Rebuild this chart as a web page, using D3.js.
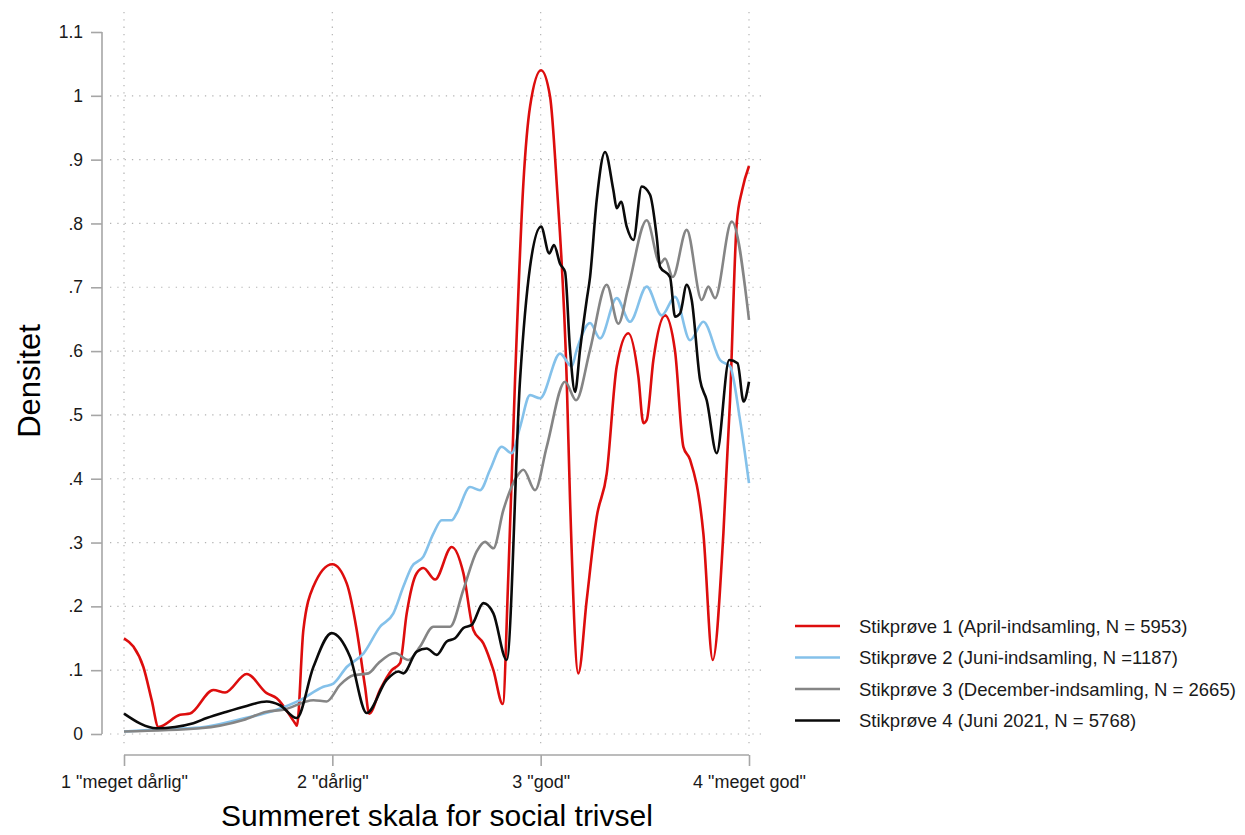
<!DOCTYPE html>
<html>
<head>
<meta charset="utf-8">
<script src="https://cdn.jsdelivr.net/npm/d3@7"></script>
<style>
  body { margin: 0; background: #fff; }
  svg { display: block; font-family: "Liberation Sans", Arial, sans-serif; }
</style>
</head>
<body>
<svg id="chart" width="1245" height="835"></svg>
<script>
// ---- Data ----
const xTicks = [1, 2, 3, 4];
const xTickLabels = ['1 "meget dårlig"', '2 "dårlig"', '3 "god"', '4 "meget god"'];
const yTicks = [0, 0.1, 0.2, 0.3, 0.4, 0.5, 0.6, 0.7, 0.8, 0.9, 1.0, 1.1];
const yTickLabels = ["0", ".1", ".2", ".3", ".4", ".5", ".6", ".7", ".8", ".9", "1", "1.1"];
const yGrid = [0, 0.1, 0.2, 0.3, 0.4, 0.5, 0.6, 0.7, 0.8, 0.9, 1.0];

const seriesNames = [
  "Stikprøve 1 (April-indsamling, N = 5953)",
  "Stikprøve 2 (Juni-indsamling, N =1187)",
  "Stikprøve 3 (December-indsamling, N = 2665)",
  "Stikprøve 4 (Juni 2021, N = 5768)"
];
const seriesColors = ["#dd0d0d", "#84c1ea", "#858585", "#0a0a0a"];

const sample1 = [
  [1.000,0.150],[1.045,0.137],[1.093,0.105],[1.133,0.053],[1.165,0.011],
  [1.269,0.030],[1.317,0.032],[1.429,0.069],[1.485,0.065],[1.589,0.094],
  [1.685,0.064],[1.733,0.056],[1.821,0.017],[1.830,0.013],[1.861,0.163],
  [1.909,0.231],[2.000,0.266],[2.069,0.236],[2.117,0.163],[2.157,0.074],
  [2.177,0.032],[2.229,0.069],[2.285,0.100],[2.325,0.111],[2.357,0.189],
  [2.405,0.252],[2.437,0.260],[2.493,0.242],[2.573,0.293],[2.629,0.252],
  [2.677,0.163],[2.725,0.142],[2.773,0.100],[2.818,0.047],[2.845,0.250],
  [2.877,0.555],[2.917,0.863],[2.949,0.983],[3.002,1.040],[3.045,0.999],
  [3.077,0.863],[3.125,0.555],[3.141,0.367],[3.181,0.095],[3.221,0.210],
  [3.269,0.340],[3.317,0.408],[3.365,0.576],[3.421,0.628],[3.469,0.560],
  [3.493,0.487],[3.509,0.492],[3.541,0.586],[3.597,0.656],[3.645,0.600],
  [3.685,0.450],[3.717,0.430],[3.781,0.314],[3.826,0.116],[3.877,0.314],
  [3.909,0.523],[3.941,0.800],[3.967,0.852],[4.000,0.890]
];
const sample2 = [
  [1.000,0.004],[1.157,0.007],[1.365,0.010],[1.557,0.023],[1.733,0.038],
  [1.845,0.053],[1.957,0.074],[2.005,0.079],[2.069,0.105],[2.149,0.126],
  [2.229,0.168],[2.293,0.189],[2.341,0.231],[2.381,0.262],[2.437,0.278],
  [2.485,0.314],[2.525,0.335],[2.573,0.335],[2.597,0.346],[2.661,0.387],
  [2.709,0.382],[2.757,0.414],[2.813,0.450],[2.861,0.440],[2.901,0.481],
  [2.949,0.531],[2.997,0.526],[3.093,0.596],[3.149,0.576],[3.173,0.602],
  [3.237,0.644],[3.285,0.620],[3.365,0.683],[3.429,0.646],[3.509,0.701],
  [3.581,0.656],[3.645,0.685],[3.717,0.617],[3.781,0.646],[3.861,0.586],
  [3.909,0.576],[3.957,0.492],[4.000,0.393]
];
const sample3 = [
  [1.000,0.004],[1.365,0.009],[1.573,0.022],[1.685,0.035],[1.765,0.038],
  [1.909,0.053],[1.973,0.051],[2.037,0.077],[2.101,0.092],[2.173,0.095],
  [2.221,0.111],[2.301,0.127],[2.365,0.116],[2.421,0.137],[2.485,0.168],
  [2.565,0.168],[2.629,0.226],[2.693,0.286],[2.733,0.301],[2.773,0.291],
  [2.821,0.351],[2.885,0.403],[2.917,0.414],[2.973,0.382],[3.029,0.450],
  [3.117,0.552],[3.170,0.523],[3.237,0.602],[3.317,0.704],[3.373,0.643],
  [3.419,0.697],[3.509,0.805],[3.573,0.737],[3.597,0.745],[3.634,0.716],
  [3.701,0.790],[3.773,0.680],[3.805,0.701],[3.837,0.683],[3.917,0.803],
  [4.000,0.649]
];
const sample4 = [
  [1.000,0.032],[1.157,0.009],[1.333,0.017],[1.397,0.025],[1.493,0.035],
  [1.589,0.044],[1.685,0.051],[1.749,0.045],[1.829,0.025],[1.909,0.105],
  [1.997,0.158],[2.085,0.121],[2.165,0.033],[2.261,0.085],[2.317,0.098],
  [2.341,0.095],[2.405,0.129],[2.453,0.134],[2.501,0.124],[2.549,0.145],
  [2.589,0.150],[2.629,0.166],[2.669,0.171],[2.725,0.205],[2.773,0.189],
  [2.837,0.116],[2.901,0.555],[2.949,0.732],[3.002,0.795],[3.041,0.753],
  [3.064,0.766],[3.093,0.737],[3.117,0.724],[3.141,0.602],[3.165,0.536],
  [3.189,0.602],[3.221,0.680],[3.237,0.716],[3.269,0.837],[3.309,0.912],
  [3.349,0.852],[3.365,0.824],[3.386,0.834],[3.413,0.795],[3.445,0.774],
  [3.485,0.858],[3.525,0.845],[3.557,0.779],[3.573,0.732],[3.621,0.716],
  [3.645,0.654],[3.669,0.659],[3.701,0.704],[3.725,0.680],[3.765,0.555],
  [3.797,0.523],[3.845,0.440],[3.905,0.586],[3.945,0.581],[3.974,0.521],
  [4.000,0.552]
];
const allSeries = [sample1, sample2, sample3, sample4];

// ---- Drawing ----
const svg = d3.select("#chart");
const x = d3.scaleLinear().domain([1, 4]).range([124, 749]);
const y = d3.scaleLinear().domain([0, 1.1]).range([734, 32]);

const gridColor = "#b4b4b4";
const axisColor = "#a6a6a6";
const textColor = "#1a1a1a";
const fontFam = "'Liberation Sans', Arial, sans-serif";

// grid
svg.append("g").selectAll("line").data(yGrid).join("line")
  .attr("x1", 110).attr("x2", 766)
  .attr("y1", d => y(d)).attr("y2", d => y(d))
  .attr("stroke", gridColor).attr("stroke-width", 1.2)
  .attr("stroke-dasharray", "1.3,6");
svg.append("g").selectAll("line").data(xTicks).join("line")
  .attr("x1", d => x(d)).attr("x2", d => x(d))
  .attr("y1", 12).attr("y2", 748)
  .attr("stroke", gridColor).attr("stroke-width", 1.2)
  .attr("stroke-dasharray", "1.3,6");

// y axis
const yAxis = d3.axisLeft(y).tickValues(yTicks)
  .tickFormat((d, i) => yTickLabels[i]).tickSize(11).tickPadding(8);
const gy = svg.append("g").attr("transform", "translate(102,0)").call(yAxis);
gy.select(".domain").attr("stroke", axisColor).attr("stroke-width", 1.6)
  .attr("d", `M0,${y(1.1)}V${y(0)}`);
gy.selectAll(".tick line").attr("stroke", axisColor).attr("stroke-width", 1.6);
gy.selectAll(".tick text").attr("fill", textColor)
  .style("font-size", "17.5px").style("font-family", fontFam);

// x axis
const xAxis = d3.axisBottom(x).tickValues(xTicks)
  .tickFormat((d, i) => xTickLabels[i]).tickSize(11).tickPadding(9);
const gx = svg.append("g").attr("transform", "translate(0,755)").call(xAxis);
gx.select(".domain").attr("stroke", axisColor).attr("stroke-width", 1.6)
  .attr("d", `M${x(1)},0H${x(4)}`);
gx.selectAll(".tick line").attr("stroke", axisColor).attr("stroke-width", 1.6);
gx.selectAll(".tick text").attr("fill", textColor)
  .style("font-size", "18px").style("font-family", fontFam);

// axis titles
svg.append("text")
  .attr("transform", "translate(40,381) rotate(-90)")
  .attr("text-anchor", "middle")
  .attr("fill", "#000")
  .style("font-size", "31px")
  .text("Densitet");
svg.append("text")
  .attr("x", 437).attr("y", 826)
  .attr("text-anchor", "middle")
  .attr("fill", "#000")
  .style("font-size", "30px")
  .text("Summeret skala for social trivsel");

// lines
const line = d3.line().x(d => x(d[0])).y(d => y(d[1])).curve(d3.curveMonotoneX);
svg.append("g").selectAll("path").data(allSeries).join("path")
  .attr("d", d => line(d))
  .attr("fill", "none")
  .attr("stroke", (d, i) => seriesColors[i])
  .attr("stroke-width", 2.6)
  .attr("stroke-linejoin", "round");

// legend
const legendY = [626, 657.5, 689, 720.5];
const lg = svg.append("g");
seriesNames.forEach((name, i) => {
  lg.append("line")
    .attr("x1", 795).attr("x2", 840)
    .attr("y1", legendY[i]).attr("y2", legendY[i])
    .attr("stroke", seriesColors[i]).attr("stroke-width", 2.6);
  lg.append("text")
    .attr("x", 859).attr("y", legendY[i]).attr("dy", "0.36em")
    .attr("fill", textColor)
    .style("font-size", "18.5px")
    .text(name);
});
</script>
</body>
</html>
